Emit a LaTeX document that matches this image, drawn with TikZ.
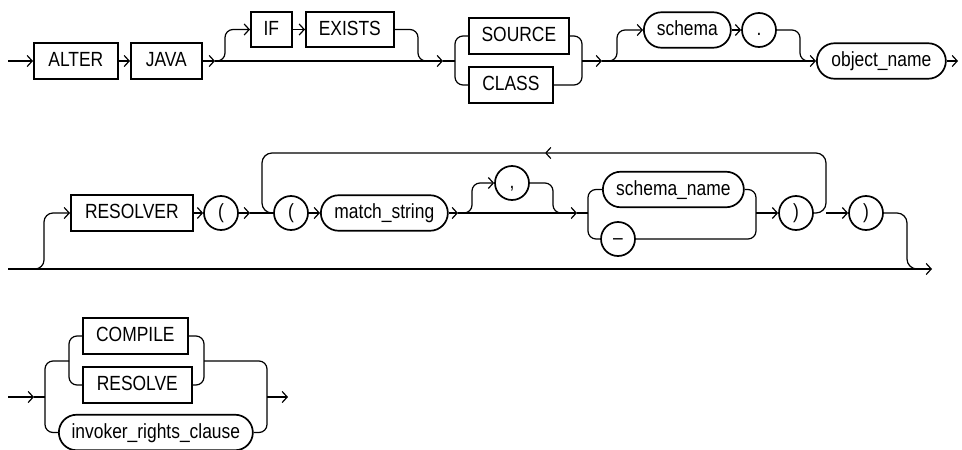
\documentclass[tikz,border=0pt]{standalone}
\usepackage{fontspec}
\setmainfont{Liberation Sans}[FakeStretch=0.85]
\usetikzlibrary{shapes.misc,arrows.meta}
\begin{document}
\begin{tikzpicture}[x=1pt,y=-1pt,
  every node/.style={font=\fontsize{20.5}{24}\selectfont, text height=14.5, text depth=3.5, inner sep=0pt},
  kw/.style={draw, rectangle, line width=1.7pt, minimum height=35.5, anchor=west},
  nt/.style={draw, rounded rectangle, line width=1.7pt, minimum height=35.5, anchor=west},
  circ/.style={draw, circle, line width=1.7pt, minimum size=34},
  conn/.style={line width=1.2pt},
  arr/.style={conn, -{Straight Barb[length=5pt,width=11pt]}},
  rc/.style={conn, rounded corners=8pt}]
\useasboundingbox (0,0) rectangle (962,450);

% ---------- row 1 ----------
\node[kw, minimum width=84] (alter) at (33,61) {ALTER};
\node[kw, minimum width=71] (java) at (130,61) {JAVA};
\node[kw, minimum width=41] (if) at (250,29.5) {IF};
\node[kw, minimum width=88] (exists) at (305,29.5) {EXISTS};
\node[kw, minimum width=100] (source) at (468,36) {SOURCE};
\node[kw, minimum width=84] (class) at (468,85) {CLASS};
\node[nt, minimum width=87] (schema) at (643,30) {schema};
\node[circ] (dot) at (759,30) {.};
\node[nt, minimum width=129] (objname) at (816,61) {object\_name};

\coordinate (s1) at (8,61);
\coordinate (j1) at (215,61);
\coordinate (c1) at (443,61);
\coordinate (r1l) at (455,61);
\coordinate (r1r) at (582,61);
\coordinate (j2) at (602,61);
\coordinate (e1) at (958,61);

\draw[arr] (s1) -- (alter.west);
\draw[arr] (alter.east) -- (java.west);
\draw[arr] (java.east) -- (j1);
\draw[arr] (j1) -- (c1);
\draw[conn] (c1) -- (r1l);
\draw[arr, rounded corners=8pt] (j1) -- (225,61) -- (225,29.5) -- (if.west);
\draw[arr] (if.east) -- (exists.west);
\draw[rc] (exists.east) -- (418,29.5) -- (418,61) -- (432,61);
\draw[rc] (r1l) -- (455,36) -- (source.west);
\draw[rc] (r1l) -- (455,85) -- (class.west);
\draw[rc] (source.east) -- (582,36) -- (582,85) -- (class.east);
\draw[arr] (r1r) -- (j2);
\draw[arr, rounded corners=8pt] (j2) -- (617,61) -- (617,30) -- (schema.west);
\draw[arr] (schema.east) -- (dot.west);
\draw[rc] (dot.east) -- (800,30) -- (800,61) -- (810,61);
\draw[arr] (j2) -- (objname.west);
\draw[arr] (objname.east) -- (e1);

% ---------- row 2 ----------
\node[kw, minimum width=122] (resolver) at (70,213) {RESOLVER};
\node[circ] (lp1) at (221,213) {(};
\node[circ] (lp2) at (291,213) {(};
\node[nt, minimum width=127] (ms) at (320,213) {match\_string};
\node[circ] (comma) at (512,183) {,};
\node[nt, minimum width=141] (sn) at (602,189.5) {schema\_name};
\node[circ] (dash) at (618,239) {–};
\node[circ] (rp1) at (796,213) {)};
\node[circ] (rp2) at (866,213) {)};

\coordinate (s2) at (8,269);
\coordinate (e2) at (932,269);
\coordinate (a2) at (250,213);
\coordinate (j3) at (458,213);
\coordinate (c3) at (577,213);
\coordinate (r3l) at (588,213);
\coordinate (r3r) at (756,213);
\coordinate (lpR) at (826,213);
\coordinate (top) at (545,153);

\draw[arr] (s2) -- (e2);
\draw[arr, rounded corners=9pt] (33,269) -- (44,269) -- (44,213) -- (resolver.west);
\draw[arr] (resolver.east) -- (lp1.west);
\draw[arr] (lp1.east) -- (a2);
\draw[conn] (a2) -- (lp2.west);
\draw[arr] (lp2.east) -- (ms.west);
\draw[arr] (ms.east) -- (j3);
\draw[arr, rounded corners=8pt] (j3) -- (472,213) -- (472,183) -- (comma.west);
\draw[rc] (comma.east) -- (553,183) -- (553,213) -- (565,213);
\draw[arr] (j3) -- (c3);
\draw[conn] (c3) -- (r3l);
\draw[rc] (r3l) -- (588,189.5) -- (sn.west);
\draw[rc] (r3l) -- (588,239) -- (dash.west);
\draw[rc] (sn.east) -- (756,189.5) -- (756,239) -- (dash.east);
\draw[arr] (r3r) -- (rp1.west);
\draw[arr, rounded corners=10pt] (rp1.east) -- (lpR) -- (826,153) -- (top);
\draw[conn, rounded corners=10pt] (top) -- (262,153) -- (262,213) -- (lp2.west);
\draw[arr] (lpR) -- (rp2.west);
\draw[conn, rounded corners=10pt] (rp2.east) -- (907,213) -- (907,269) -- (920,269);

% ---------- row 3 ----------
\node[kw, minimum width=105] (compile) at (82,336) {COMPILE};
\node[kw, minimum width=109] (resolve) at (82,385) {RESOLVE};
\node[nt, minimum width=194] (irc) at (58,432.5) {invoker\_rights\_clause};

\coordinate (s3) at (8,397);
\coordinate (a3) at (34,397);
\coordinate (r5l) at (45,397);
\coordinate (r4l) at (69,361);
\coordinate (r4r) at (204,361);
\coordinate (r5r) at (267,397);
\coordinate (e3) at (288,397);

\draw[arr] (s3) -- (a3);
\draw[conn] (a3) -- (r5l);
\draw[rc] (r4l) -- (45,361) -- (45,432.5) -- (irc.west);
\draw[rc] (r4l) -- (69,336) -- (compile.west);
\draw[rc] (r4l) -- (69,385) -- (resolve.west);
\draw[rc] (compile.east) -- (204,336) -- (204,385) -- (resolve.east);
\draw[rc] (r4r) -- (267,361) -- (267,432.5) -- (irc.east);
\draw[arr] (r5r) -- (e3);
\end{tikzpicture}
\end{document}
